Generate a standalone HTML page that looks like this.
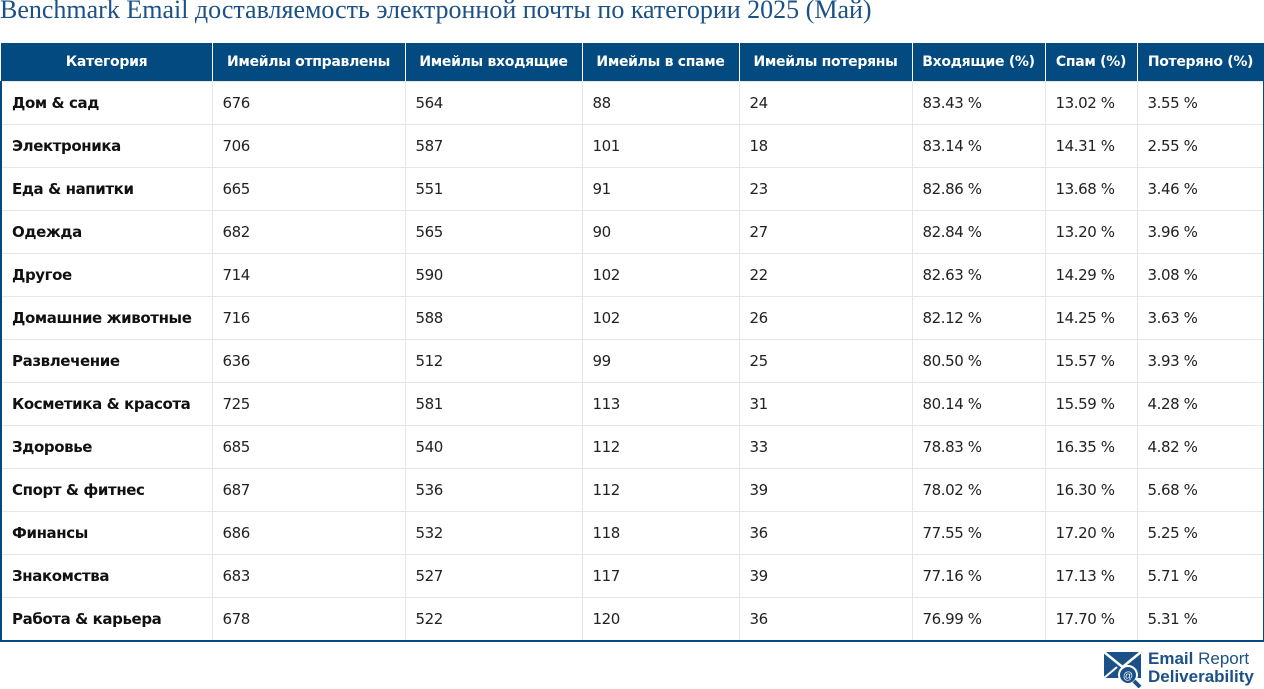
<!DOCTYPE html>
<html><head><meta charset="utf-8">
<style>
html,body{margin:0;padding:0;background:#fff;width:1264px;height:689px;overflow:hidden;}
.title{position:absolute;left:0;top:-5px;font-family:"Liberation Serif",serif;font-size:26px;color:#1b5187;white-space:nowrap;}
table{position:absolute;left:0;top:43px;border-collapse:collapse;table-layout:fixed;width:1263px;font-family:"DejaVu Sans","Liberation Sans",sans-serif;}
th{background:#034a80;color:#fff;font-size:14px;font-weight:bold;height:38px;padding:0;text-align:center;border-left:1px solid #fff;border-right:1px solid #fff;letter-spacing:-0.3px;}
th:first-child{border-left:1px solid #034a80}
th:last-child{border-right:1px solid #034a80}
td{height:42px;padding:0 0 0 10px;font-size:15px;color:#222;border:1px solid #e6e6e6;white-space:nowrap;letter-spacing:-0.4px;}
td:first-child{font-weight:bold;color:#111;border-left:2px solid #034a80;}
td:last-child{border-right:2px solid #034a80;}
tr:last-child td{border-bottom:2px solid #034a80;}
.logo{position:absolute;left:1103px;top:650px;}
.lt{position:absolute;left:1148px;font-family:"Liberation Sans",sans-serif;font-size:17px;color:#1b5187;white-space:nowrap;}
</style></head><body>
<div class="title">Benchmark Email доставляемость электронной почты по категории 2025 (Май)</div>
<table>
<colgroup><col style="width:211px"><col style="width:193px"><col style="width:177px"><col style="width:157px"><col style="width:173px"><col style="width:133px"><col style="width:92px"><col style="width:127px"></colgroup>
<thead><tr>
<th>Категория</th>
<th>Имейлы отправлены</th>
<th>Имейлы входящие</th>
<th>Имейлы в спаме</th>
<th>Имейлы потеряны</th>
<th>Входящие (%)</th>
<th>Спам (%)</th>
<th>Потеряно (%)</th>
</tr></thead>
<tbody>
<tr><td>Дом &amp; сад</td><td>676</td><td>564</td><td>88</td><td>24</td><td>83.43 %</td><td>13.02 %</td><td>3.55 %</td></tr>
<tr><td>Электроника</td><td>706</td><td>587</td><td>101</td><td>18</td><td>83.14 %</td><td>14.31 %</td><td>2.55 %</td></tr>
<tr><td>Еда &amp; напитки</td><td>665</td><td>551</td><td>91</td><td>23</td><td>82.86 %</td><td>13.68 %</td><td>3.46 %</td></tr>
<tr><td>Одежда</td><td>682</td><td>565</td><td>90</td><td>27</td><td>82.84 %</td><td>13.20 %</td><td>3.96 %</td></tr>
<tr><td>Другое</td><td>714</td><td>590</td><td>102</td><td>22</td><td>82.63 %</td><td>14.29 %</td><td>3.08 %</td></tr>
<tr><td>Домашние животные</td><td>716</td><td>588</td><td>102</td><td>26</td><td>82.12 %</td><td>14.25 %</td><td>3.63 %</td></tr>
<tr><td>Развлечение</td><td>636</td><td>512</td><td>99</td><td>25</td><td>80.50 %</td><td>15.57 %</td><td>3.93 %</td></tr>
<tr><td>Косметика &amp; красота</td><td>725</td><td>581</td><td>113</td><td>31</td><td>80.14 %</td><td>15.59 %</td><td>4.28 %</td></tr>
<tr><td>Здоровье</td><td>685</td><td>540</td><td>112</td><td>33</td><td>78.83 %</td><td>16.35 %</td><td>4.82 %</td></tr>
<tr><td>Спорт &amp; фитнес</td><td>687</td><td>536</td><td>112</td><td>39</td><td>78.02 %</td><td>16.30 %</td><td>5.68 %</td></tr>
<tr><td>Финансы</td><td>686</td><td>532</td><td>118</td><td>36</td><td>77.55 %</td><td>17.20 %</td><td>5.25 %</td></tr>
<tr><td>Знакомства</td><td>683</td><td>527</td><td>117</td><td>39</td><td>77.16 %</td><td>17.13 %</td><td>5.71 %</td></tr>
<tr><td>Работа &amp; карьера</td><td>678</td><td>522</td><td>120</td><td>36</td><td>76.99 %</td><td>17.70 %</td><td>5.31 %</td></tr>
</tbody></table>
<svg class="logo" width="42" height="38" viewBox="0 0 42 38">
<rect x="1" y="2" width="37" height="26" fill="#1b5187"/>
<polyline points="1,2 19.5,17 38,2" fill="none" stroke="#fff" stroke-width="2.5"/>
<line x1="1" y1="28" x2="14" y2="17" stroke="#fff" stroke-width="2"/>
<circle cx="25" cy="25" r="9" fill="#1b5187" stroke="#fff" stroke-width="2"/>
<text x="25" y="29" font-size="10" fill="#fff" text-anchor="middle" font-family="Liberation Sans,sans-serif">@</text>
<line x1="31" y1="31" x2="37" y2="37" stroke="#1b5187" stroke-width="4"/>
</svg>
<div class="lt" style="top:649px"><b>Email</b> Report</div>
<div class="lt" style="top:667px;font-weight:bold">Deliverability</div>
</body></html>
